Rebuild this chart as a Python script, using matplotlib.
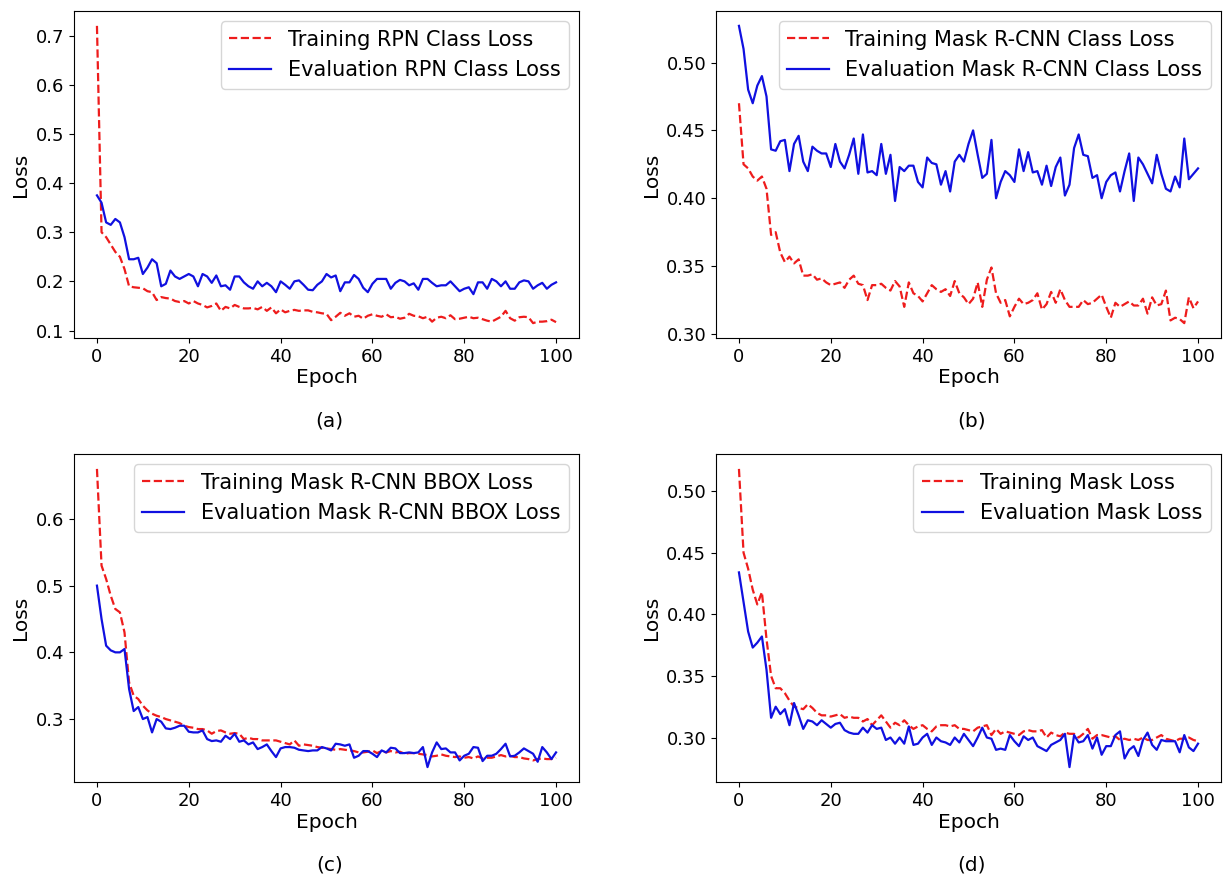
import matplotlib
matplotlib.use('Agg')
import matplotlib.pyplot as plt

epochs = list(range(101))

rpn_train = [0.72, 0.30, 0.29, 0.275, 0.26, 0.25, 0.225, 0.19, 0.188, 0.187,
             0.186, 0.18, 0.178, 0.162, 0.168, 0.166, 0.165, 0.16, 0.158, 0.16,
             0.155, 0.16, 0.155, 0.152, 0.147, 0.15, 0.155, 0.14, 0.148, 0.145,
             0.152, 0.148, 0.145, 0.145, 0.146, 0.143, 0.148, 0.14, 0.147, 0.135,
             0.143, 0.137, 0.14, 0.142, 0.14, 0.141, 0.141, 0.138, 0.137, 0.135,
             0.134, 0.121, 0.128, 0.136, 0.13, 0.135, 0.128, 0.13, 0.124, 0.13,
             0.133, 0.13, 0.128, 0.133, 0.127, 0.128, 0.124, 0.126, 0.134, 0.13,
             0.129, 0.125, 0.128, 0.118, 0.126, 0.128, 0.125, 0.131, 0.123, 0.124,
             0.126, 0.128, 0.125, 0.126, 0.123, 0.12, 0.118, 0.123, 0.128, 0.14,
             0.125, 0.12, 0.127, 0.128, 0.127, 0.115, 0.118, 0.118, 0.119, 0.122,
             0.117]
rpn_eval = [0.375, 0.36, 0.32, 0.315, 0.327, 0.32, 0.29, 0.245, 0.245, 0.248,
            0.215, 0.228, 0.245, 0.237, 0.19, 0.195, 0.222, 0.21, 0.205, 0.21,
            0.215, 0.21, 0.19, 0.215, 0.21, 0.197, 0.212, 0.19, 0.192, 0.183,
            0.21, 0.21, 0.198, 0.19, 0.185, 0.2, 0.19, 0.197, 0.19, 0.178,
            0.2, 0.193, 0.185, 0.2, 0.202, 0.193, 0.183, 0.182, 0.193, 0.2,
            0.215, 0.208, 0.212, 0.18, 0.198, 0.198, 0.213, 0.205, 0.187, 0.178,
            0.195, 0.205, 0.205, 0.205, 0.185, 0.197, 0.203, 0.2, 0.192, 0.196,
            0.183, 0.205, 0.205, 0.197, 0.19, 0.192, 0.192, 0.2, 0.19, 0.18,
            0.185, 0.188, 0.174, 0.198, 0.198, 0.185, 0.205, 0.2, 0.19, 0.2,
            0.185, 0.185, 0.198, 0.202, 0.2, 0.185, 0.192, 0.197, 0.185, 0.193,
            0.198]

cls_train = [0.47, 0.425, 0.422, 0.416, 0.413, 0.416, 0.407, 0.373, 0.375, 0.36,
             0.353, 0.357, 0.352, 0.355, 0.343, 0.343, 0.344, 0.34, 0.341, 0.338,
             0.336, 0.337, 0.338, 0.334, 0.34, 0.343, 0.337, 0.336, 0.325, 0.336,
             0.336, 0.337, 0.334, 0.332, 0.339, 0.335, 0.32, 0.338, 0.33, 0.328,
             0.324, 0.33, 0.336, 0.333, 0.331, 0.333, 0.328, 0.339, 0.33, 0.327,
             0.322, 0.326, 0.338, 0.32, 0.34, 0.349, 0.33, 0.323, 0.325, 0.313,
             0.32, 0.326, 0.322, 0.323, 0.325, 0.33, 0.318, 0.322, 0.331, 0.323,
             0.333, 0.325, 0.32, 0.32, 0.32, 0.325, 0.322, 0.323, 0.326, 0.329,
             0.32, 0.312, 0.323, 0.32, 0.322, 0.324, 0.321, 0.321, 0.326, 0.315,
             0.327, 0.321, 0.322, 0.332, 0.31, 0.312, 0.311, 0.308, 0.327, 0.319,
             0.324]
cls_eval = [0.527, 0.51, 0.48, 0.47, 0.483, 0.49, 0.475, 0.436, 0.435, 0.442,
            0.443, 0.42, 0.44, 0.446, 0.427, 0.42, 0.438, 0.435, 0.433, 0.433,
            0.423, 0.44, 0.427, 0.422, 0.432, 0.444, 0.418, 0.447, 0.419, 0.42,
            0.417, 0.44, 0.418, 0.432, 0.398, 0.423, 0.42, 0.424, 0.424, 0.412,
            0.408, 0.43, 0.426, 0.425, 0.41, 0.42, 0.405, 0.427, 0.432, 0.427,
            0.44, 0.45, 0.432, 0.415, 0.418, 0.443, 0.4, 0.412, 0.42, 0.417,
            0.412, 0.436, 0.42, 0.434, 0.419, 0.42, 0.41, 0.424, 0.409, 0.423,
            0.43, 0.402, 0.41, 0.437, 0.447, 0.432, 0.431, 0.415, 0.417, 0.4,
            0.412, 0.417, 0.419, 0.405, 0.42, 0.433, 0.398, 0.43, 0.425, 0.418,
            0.411, 0.432, 0.418, 0.407, 0.405, 0.416, 0.408, 0.444, 0.414, 0.418,
            0.422]

bbox_train = [0.675, 0.53, 0.51, 0.485, 0.465, 0.46, 0.43, 0.355, 0.335, 0.33,
              0.32, 0.313, 0.308, 0.305, 0.303, 0.3, 0.298, 0.296, 0.294, 0.29,
              0.288, 0.287, 0.285, 0.285, 0.283, 0.278, 0.282, 0.283, 0.28, 0.278,
              0.279, 0.278, 0.27, 0.272, 0.27, 0.27, 0.268, 0.268, 0.268, 0.268,
              0.266, 0.264, 0.262, 0.268, 0.26, 0.262, 0.261, 0.26, 0.258, 0.257,
              0.256, 0.255, 0.254, 0.255, 0.254, 0.253, 0.252, 0.25, 0.25, 0.251,
              0.253, 0.249, 0.252, 0.25, 0.252, 0.25, 0.251, 0.248, 0.249, 0.249,
              0.248, 0.247, 0.246, 0.244, 0.245, 0.247, 0.245, 0.244, 0.243, 0.244,
              0.242, 0.243, 0.241, 0.244, 0.241, 0.242, 0.242, 0.244, 0.246, 0.244,
              0.245, 0.243, 0.243, 0.241, 0.24, 0.238, 0.24, 0.241, 0.24, 0.24,
              0.242]
bbox_eval = [0.5, 0.45, 0.41, 0.403, 0.4, 0.4, 0.405, 0.345, 0.312, 0.318,
             0.3, 0.303, 0.28, 0.3, 0.296, 0.286, 0.285, 0.287, 0.29, 0.29,
             0.281, 0.28, 0.28, 0.283, 0.27, 0.267, 0.268, 0.266, 0.275, 0.27,
             0.278, 0.266, 0.268, 0.262, 0.265, 0.255, 0.258, 0.262, 0.252, 0.243,
             0.256, 0.258, 0.258, 0.257, 0.254, 0.253, 0.252, 0.253, 0.253, 0.258,
             0.256, 0.253, 0.263, 0.262, 0.26, 0.262, 0.242, 0.245, 0.252, 0.252,
             0.248, 0.243, 0.253, 0.25, 0.257, 0.256, 0.249, 0.249, 0.25, 0.249,
             0.25, 0.258, 0.228, 0.25, 0.265, 0.255, 0.256, 0.25, 0.25, 0.238,
             0.245, 0.248, 0.258, 0.257, 0.237, 0.245, 0.245, 0.248, 0.255, 0.263,
             0.244, 0.245, 0.25, 0.256, 0.252, 0.248, 0.236, 0.258, 0.25, 0.24,
             0.25]

mask_train = [0.518, 0.45, 0.437, 0.42, 0.408, 0.418, 0.38, 0.35, 0.34, 0.34,
              0.336, 0.33, 0.325, 0.324, 0.323, 0.327, 0.324, 0.32, 0.318, 0.318,
              0.317, 0.318, 0.319, 0.316, 0.317, 0.316, 0.316, 0.313, 0.315, 0.31,
              0.314, 0.318, 0.313, 0.308, 0.312, 0.31, 0.314, 0.31, 0.307, 0.309,
              0.31, 0.307, 0.305, 0.309, 0.31, 0.31, 0.309, 0.31, 0.307, 0.307,
              0.306, 0.305, 0.308, 0.309, 0.31, 0.302, 0.307, 0.303, 0.305, 0.304,
              0.303, 0.302, 0.305, 0.306, 0.305, 0.305, 0.306, 0.3, 0.304, 0.302,
              0.301, 0.304, 0.303, 0.303, 0.3, 0.303, 0.307, 0.299, 0.302, 0.302,
              0.301, 0.3, 0.301, 0.298, 0.299, 0.298, 0.299, 0.298, 0.3, 0.298,
              0.298, 0.3, 0.302, 0.299, 0.298, 0.297, 0.299, 0.299, 0.3, 0.298,
              0.297]
mask_eval = [0.434, 0.41, 0.386, 0.373, 0.377, 0.382, 0.355, 0.316, 0.325, 0.319,
             0.323, 0.31, 0.328, 0.318, 0.307, 0.314, 0.313, 0.31, 0.314, 0.311,
             0.308, 0.311, 0.312, 0.306, 0.304, 0.303, 0.303, 0.308, 0.304, 0.31,
             0.307, 0.308, 0.298, 0.3, 0.295, 0.3, 0.295, 0.309, 0.294, 0.295,
             0.3, 0.303, 0.294, 0.3, 0.297, 0.296, 0.294, 0.3, 0.296, 0.303,
             0.298, 0.293, 0.3, 0.308, 0.3, 0.299, 0.29, 0.291, 0.29, 0.302,
             0.297, 0.293, 0.301, 0.298, 0.3, 0.293, 0.291, 0.289, 0.294, 0.296,
             0.298, 0.303, 0.276, 0.302, 0.296, 0.297, 0.302, 0.291, 0.3, 0.286,
             0.293, 0.293, 0.302, 0.305, 0.283, 0.29, 0.293, 0.285, 0.298, 0.304,
             0.294, 0.29, 0.298, 0.297, 0.297, 0.297, 0.288, 0.302, 0.292, 0.289,
             0.295]

panels = [
  (rpn_train, rpn_eval, 'RPN Class Loss', '(a)'),
  (cls_train, cls_eval, 'Mask R-CNN Class Loss', '(b)'),
  (bbox_train, bbox_eval, 'Mask R-CNN BBOX Loss', '(c)'),
  (mask_train, mask_eval, 'Mask Loss', '(d)'),
]

# axes boxes in pixels: left, bottom, width, height (figure is 1223x877)
W, H = 1223, 877
boxes = [(74, 539, 505, 327), (716, 539, 505, 327),
         (74, 95, 505, 328), (716, 95, 505, 328)]

fig = plt.figure(figsize=(12.23, 8.77), dpi=100)

for (train, ev, name, tag), (l, b, w, h) in zip(panels, boxes):
  ax = fig.add_axes([l / W, b / H, w / W, h / H])
  ax.plot(epochs, train, '--', color='#ee1c1c', lw=1.6, label='Training ' + name)
  ax.plot(epochs, ev, '-', color='#1010e0', lw=1.6, label='Evaluation ' + name)
  ax.set_xlabel('Epoch', fontsize=14.5, labelpad=2)
  ax.set_ylabel('Loss', fontsize=14.5, labelpad=4)
  ax.tick_params(labelsize=13)
  ax.legend(loc='upper right', fontsize=15)
  fig.text((l + w / 2 + 3) / W, (b - 83) / H, tag, fontsize=14.5, ha='center', va='center')

fig.savefig('out.png', dpi=100)
